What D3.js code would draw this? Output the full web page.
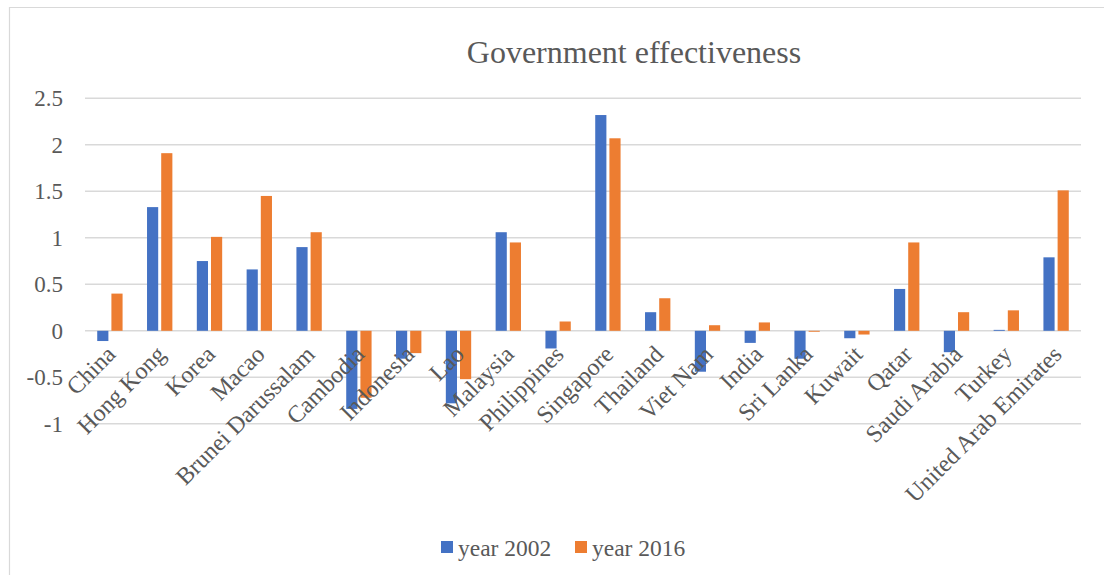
<!DOCTYPE html>
<html>
<head>
<meta charset="utf-8">
<script src="https://cdn.jsdelivr.net/npm/d3@7"></script>
<style>
  html, body { margin: 0; padding: 0; background: #fff; }
  svg { display: block; }
</style>
</head>
<body>
<svg id="chart" width="1104" height="575"></svg>
<script>
// ---- data ----
const categories = ["China", "Hong Kong", "Korea", "Macao", "Brunei Darussalam", "Cambodia", "Indonesia", "Lao", "Malaysia", "Philippines", "Singapore", "Thailand", "Viet Nam", "India", "Sri Lanka", "Kuwait", "Qatar", "Saudi Arabia", "Turkey", "United Arab Emirates"];
const year2002 = [-0.11, 1.33, 0.75, 0.66, 0.90, -0.84, -0.30, -0.78, 1.06, -0.19, 2.32, 0.20, -0.44, -0.13, -0.30, -0.08, 0.45, -0.23, 0.01, 0.79];
const year2016 = [0.40, 1.91, 1.01, 1.45, 1.06, -0.72, -0.24, -0.52, 0.95, 0.10, 2.07, 0.35, 0.06, 0.09, -0.01, -0.04, 0.95, 0.20, 0.22, 1.51];
const seriesNames = ["year 2002", "year 2016"];
const yTicks = [-1, -0.5, 0, 0.5, 1, 1.5, 2, 2.5];
const yTickLabels = ["-1", "-0.5", "0", "0.5", "1", "1.5", "2", "2.5"];
const title = "Government effectiveness";

const colors = ["#4472C4", "#ED7D31"];
const FONT = "'Liberation Serif', 'Times New Roman', serif";
const TEXT = "#595959";

const svg = d3.select("#chart");

// chart area border
svg.append("path")
  .attr("d", "M9.5,575 L9.5,7.5 L1110,7.5")
  .attr("fill", "none").attr("stroke", "#d9d9d9").attr("stroke-width", 1.2);

const plot = { left: 85, right: 1081, top: 98.3, bottom: 423.8 };

const x = d3.scaleBand().domain(categories).range([plot.left, plot.right]).paddingInner(0).paddingOuter(0);
const y = d3.scaleLinear().domain([-1, 2.5]).range([plot.bottom, plot.top]);

// gridlines
svg.append("g").selectAll("line").data(yTicks).join("line")
  .attr("x1", plot.left).attr("x2", plot.right)
  .attr("y1", d => y(d)).attr("y2", d => y(d))
  .attr("stroke", "#d9d9d9").attr("stroke-width", 1.4);

// y axis labels
const yAxis = d3.axisLeft(y).tickValues(yTicks).tickSize(0).tickPadding(0)
  .tickFormat((d, i) => yTickLabels[i]);
const gy = svg.append("g").attr("transform", `translate(63,0)`).call(yAxis);
gy.attr("font-family", FONT).attr("font-size", 23);
gy.select(".domain").remove();
gy.selectAll("text")
  .attr("font-family", FONT).attr("font-size", 23).attr("fill", TEXT)
  .attr("dy", "0.33em");

// bars (Excel defaults: gap width 219%, overlap -27%)
const band = x.bandwidth();
const w = band / 4.46;
const gap = 0.27 * w;
const groupW = 2 * w + gap;
const series = [year2002, year2016];
series.forEach((vals, s) => {
  svg.append("g").selectAll("rect").data(vals).join("rect")
    .attr("x", (d, i) => x(categories[i]) + (band - groupW) / 2 + s * (w + gap))
    .attr("width", w)
    .attr("y", d => Math.min(y(d), y(0)))
    .attr("height", d => Math.abs(y(d) - y(0)))
    .attr("fill", colors[s]);
});

// category labels (rotated -45, hanging from zero line)
const xAxis = d3.axisBottom(x).tickSize(0).tickPadding(0);
const gx = svg.append("g").attr("transform", `translate(0,${y(0)})`).call(xAxis);
gx.attr("font-family", FONT).attr("font-size", 24);
gx.select(".domain").remove();
gx.selectAll("text")
  .attr("font-family", FONT).attr("font-size", 24).attr("fill", TEXT)
  .attr("text-anchor", "end")
  .attr("dy", null)
  .attr("y", 0)
  .attr("transform", "translate(7,25) rotate(-45)");

// title
svg.append("text")
  .attr("x", 634).attr("y", 62.5)
  .attr("text-anchor", "middle")
  .attr("font-family", FONT).attr("font-size", 32).attr("fill", TEXT)
  .text(title);

// legend
const legendX = [441, 575];
const lg = svg.append("g");
seriesNames.forEach((name, i) => {
  lg.append("rect").attr("x", legendX[i]).attr("y", 541).attr("width", 12).attr("height", 12).attr("fill", colors[i]);
  lg.append("text").attr("x", legendX[i] + 17).attr("y", 555.5)
    .attr("font-family", FONT).attr("font-size", 23.5).attr("fill", TEXT)
    .text(name);
});
</script>
</body>
</html>
